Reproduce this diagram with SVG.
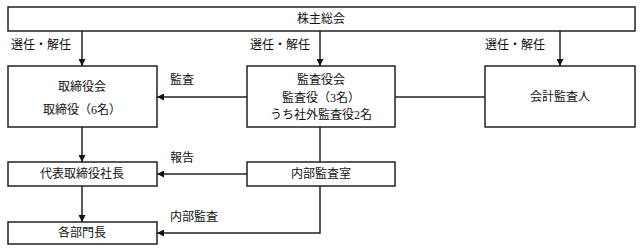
<svg xmlns="http://www.w3.org/2000/svg" width="641" height="252" viewBox="0 0 641 252">
<style>
.box{fill:#fff;stroke:#222;stroke-width:1.5}
.t{font-family:"Liberation Serif","Noto Sans CJK JP",serif;font-size:12px;fill:#111;dominant-baseline:central}
.c{text-anchor:middle}
.ln{fill:none;stroke:#222;stroke-width:1.5}
</style>
<defs>
<marker id="ah" viewBox="0 0 10 10" refX="10" refY="5" markerWidth="7" markerHeight="7" markerUnits="userSpaceOnUse" orient="auto">
<path d="M0,0 L10,5 L0,10 Z" fill="#111"/>
</marker>
</defs>
<rect width="641" height="252" fill="#fff"/>
<g id="connectors">
<line class="ln" x1="82" y1="31" x2="82" y2="66" marker-end="url(#ah)"/>
<line class="ln" x1="320" y1="31" x2="320" y2="66" marker-end="url(#ah)"/>
<line class="ln" x1="560" y1="31" x2="560" y2="66" marker-end="url(#ah)"/>
<line class="ln" x1="247" y1="97" x2="157" y2="97" marker-end="url(#ah)"/>
<line class="ln" x1="395" y1="97" x2="485" y2="97"/>
<line class="ln" x1="82" y1="127" x2="82" y2="162" marker-end="url(#ah)"/>
<line class="ln" x1="320" y1="127" x2="320" y2="162"/>
<line class="ln" x1="247" y1="174" x2="157" y2="174" marker-end="url(#ah)"/>
<line class="ln" x1="82" y1="186" x2="82" y2="222" marker-end="url(#ah)"/>
<polyline class="ln" points="320,186 320,233 157,233" marker-end="url(#ah)"/>
<text class="t" x="11" y="45">選任・解任</text>
<text class="t" x="250" y="45">選任・解任</text>
<text class="t" x="485" y="45">選任・解任</text>
<text class="t" x="170" y="80">監査</text>
<text class="t" x="170" y="158">報告</text>
<text class="t" x="170" y="217">内部監査</text>
</g>
<g id="shareholders">
<rect class="box" x="8" y="7" width="627" height="24"/>
<text class="t c" x="321" y="19">株主総会</text>
</g>
<g id="board">
<rect class="box" x="8" y="66" width="149" height="61"/>
<text class="t c" x="82" y="87">取締役会</text>
<text class="t c" x="82" y="110">取締役（6名）</text>
</g>
<g id="audit-board">
<rect class="box" x="247" y="66" width="148" height="61"/>
<text class="t c" x="321" y="80">監査役会</text>
<text class="t c" x="321" y="98">監査役（3名）</text>
<text class="t c" x="321" y="115">うち社外監査役2名</text>
</g>
<g id="accounting-auditor">
<rect class="box" x="485" y="66" width="150" height="61"/>
<text class="t c" x="560" y="97">会計監査人</text>
</g>
<g id="president">
<rect class="box" x="8" y="162" width="149" height="24"/>
<text class="t c" x="82" y="174">代表取締役社長</text>
</g>
<g id="internal-audit">
<rect class="box" x="247" y="162" width="148" height="24"/>
<text class="t c" x="321" y="174">内部監査室</text>
</g>
<g id="department-heads">
<rect class="box" x="8" y="222" width="149" height="22"/>
<text class="t c" x="82" y="233">各部門長</text>
</g>
</svg>
